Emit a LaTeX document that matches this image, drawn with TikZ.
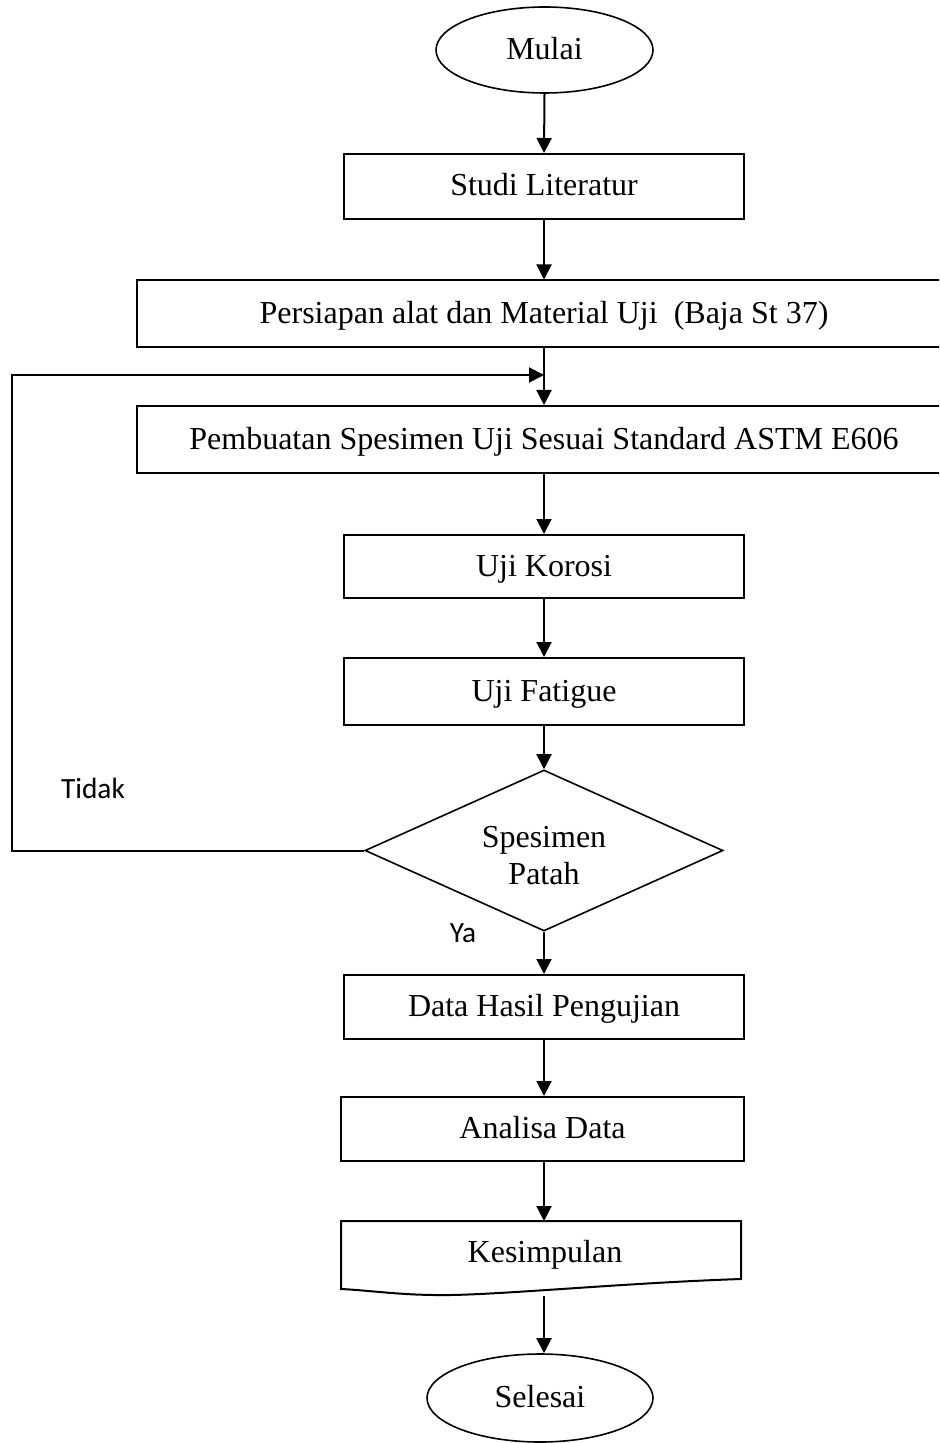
\documentclass[tikz,border=0pt]{standalone}
\usepackage{fontspec}
\setmainfont{Liberation Serif}
\newfontfamily\labfont{Carlito}
\usetikzlibrary{shapes.geometric,arrows.meta}
\begin{document}
\begin{tikzpicture}[x=0.5pt,y=-0.5pt,
  box/.style={draw,line width=1pt,rectangle,inner sep=0pt,text height=14.5pt,text depth=5pt,minimum width=200pt,minimum height=32.5pt,font=\fontsize{16}{18.5}\selectfont},
  term/.style={draw,line width=0.8pt,ellipse,inner sep=0pt,text height=14.5pt,text depth=5pt,font=\fontsize{16}{18.5}\selectfont},
  decision/.style={draw,line width=0.8pt,diamond,shape aspect=2.2,inner sep=0pt},
  txt/.style={inner sep=0pt,align=center,font=\fontsize{16}{18.5}\selectfont},
  arr/.style={line width=1pt,-{Triangle[length=7.5pt,width=7.5pt]}},
  lab/.style={font=\labfont\fontsize{14.67}{17}\selectfont,anchor=base}]
\useasboundingbox (0,0) rectangle (939,1443);
\clip (0,0) rectangle (939,1443);

\node[term,minimum width=108.5pt,minimum height=43pt] (mulai) at (544.5,50) {Mulai};
\node[box,minimum height=32.5pt] (studi) at (544,186.5) {Studi Literatur};
\node[box,minimum width=407pt,minimum height=33.5pt] (persiapan) at (544,314) {Persiapan alat dan Material Uji \ (Baja St 37)};
\node[box,minimum width=407pt,minimum height=33.5pt] (pembuatan) at (544,439.5) {Pembuatan Spesimen Uji Sesuai Standard ASTM E606};
\node[box,minimum height=31.5pt] (korosi) at (544,566.5) {Uji Korosi};
\node[box,minimum height=33.5pt] (fatigue) at (544,691.5) {Uji Fatigue};
\node[decision,minimum width=179pt,minimum height=80.5pt] (dec) at (544,850.5) {};
\node[txt] (dectext) at (544,856) {Spesimen\\Patah};
\node[box,minimum height=32pt] (data) at (544,1007) {Data Hasil Pengujian};
\node[box,minimum width=201.5pt,minimum height=32pt] (analisa) at (542.5,1129) {Analisa Data};
\node[txt,anchor=base] (kes) at (545,1262) {Kesimpulan};
\coordinate (kestop) at (544,1221);
\draw[line width=1pt] (341,1221) -- (741,1221) -- (741,1279)
  .. controls (620,1283) and (490,1296) .. (437,1295)
  .. controls (400,1295) and (365,1290) .. (341,1289) -- cycle;
\coordinate (kesbot) at (544,1296);
\node[term,minimum width=113pt,minimum height=44pt] (selesai) at (540,1398) {Selesai};

\coordinate (lcorner) at (12,850.5);
\coordinate (loopin) at (544,375);

\draw[arr] (mulai.south) -- (studi.north);
\draw[arr] (studi.south) -- (persiapan.north);
\draw[arr] (persiapan.south) -- (pembuatan.north);
\draw[arr] (pembuatan.south) -- (korosi.north);
\draw[arr] (korosi.south) -- (fatigue.north);
\draw[arr] (fatigue.south) -- (dec.north);
\draw[arr] (dec.south) -- (data.north);
\draw[arr] (data.south) -- (analisa.north -| data.south);
\draw[arr] (analisa.south -| data.south) -- (kestop);
\draw[arr] (kesbot) -- (kesbot |- selesai.north);
\draw[arr] (dec.west) -- (lcorner) |- (loopin);

\node[lab] (tidak) at (93,798) {Tidak};
\node[lab] (ya) at (463,942) {Ya};
\end{tikzpicture}
\end{document}
